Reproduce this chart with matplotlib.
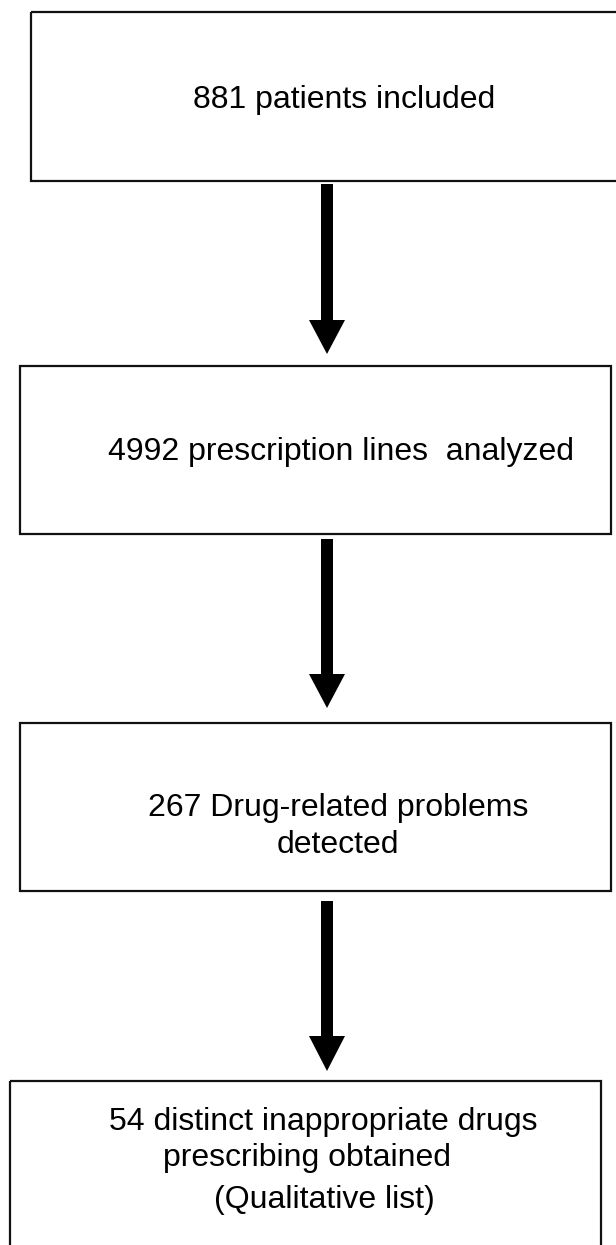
import matplotlib
matplotlib.use("Agg")
import matplotlib.pyplot as plt
from matplotlib.patches import Rectangle, Polygon

plt.rcParams['font.family'] = ['Liberation Sans', 'DejaVu Sans']

# flowchart steps (text of each box, one string per line)
steps = [
    ["881 patients included"],
    ["4992 prescription lines  analyzed"],
    ["267 Drug-related problems", "detected"],
    ["54 distinct inappropriate drugs", "prescribing obtained", "(Qualitative list)"],
]

# layout in pixel units (x0, y0, x1, y1), y grows downwards
boxes = [(31, 12, 622, 181), (20, 366, 611, 534), (20, 723, 611, 891), (10, 1081, 601, 1252)]
text_pos = [
    [(344, 100)],
    [(341, 452)],
    [(338, 808), (338, 845)],
    [(323, 1122), (307, 1158), (324, 1200)],
]
# arrows: (shaft top, head start, tip)
arrows = [(184, 320, 354), (539, 674, 708), (901, 1036, 1071)]
ax_x = 327
shaft_w = 12
head_w = 36

fig = plt.figure(figsize=(6.16, 12.45), dpi=100)
ax = fig.add_axes([0, 0, 1, 1])
ax.set_xlim(0, 616)
ax.set_ylim(1245, 0)
ax.axis('off')

for (x0, y0, x1, y1) in boxes:
    ax.add_patch(Rectangle((x0, y0), x1 - x0, y1 - y0, fill=False,
                           edgecolor='#111111', linewidth=1.6))

for lines, pos in zip(steps, text_pos):
    for txt, (x, y) in zip(lines, pos):
        ax.text(x, y, txt, ha='center', va='center', fontsize=23, color='black')

for (top, hs, tip) in arrows:
    pts = [(ax_x - shaft_w / 2, top), (ax_x + shaft_w / 2, top),
           (ax_x + shaft_w / 2, hs), (ax_x + head_w / 2, hs),
           (ax_x, tip), (ax_x - head_w / 2, hs), (ax_x - shaft_w / 2, hs)]
    ax.add_patch(Polygon(pts, closed=True, facecolor='black', edgecolor='none'))

fig.savefig('out.png', dpi=100)
